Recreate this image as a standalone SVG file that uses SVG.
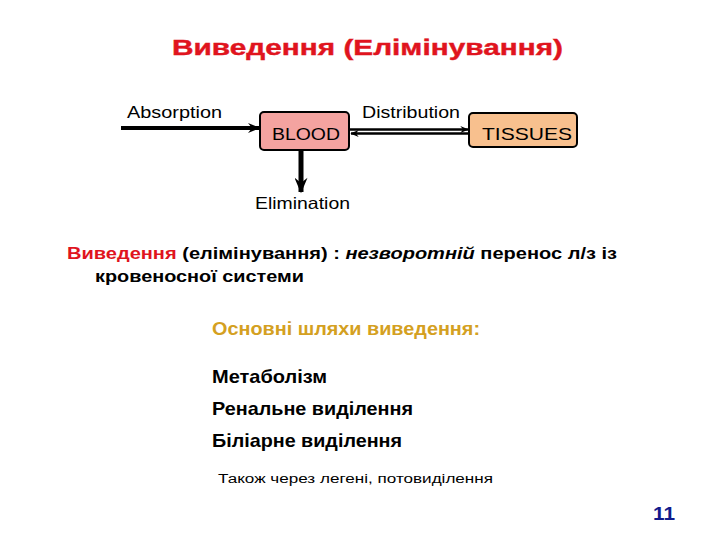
<svg xmlns="http://www.w3.org/2000/svg" width="720" height="540" viewBox="0 0 720 540">
<style>
text{font-family:"Liberation Sans",Arial,sans-serif}
.lbl{font-size:16.5px;fill:#000}
.b{font-weight:bold}
.box{stroke:#000;stroke-width:2}
.ln{stroke:#000;fill:none}
</style>
<defs>
<marker id="ah" viewBox="0 0 12 10" refX="11" refY="5" markerWidth="12" markerHeight="10" markerUnits="userSpaceOnUse" orient="auto">
<path d="M0,0 L12,5 L0,10 L4,5 z" fill="#000"/>
</marker>
<marker id="ahs" viewBox="0 0 12 10" refX="11" refY="5" markerWidth="9" markerHeight="7" markerUnits="userSpaceOnUse" orient="auto">
<path d="M0,0 L12,5 L0,10 L4,5 z" fill="#000"/>
</marker>
<marker id="ahv" viewBox="0 0 12 10" refX="11" refY="5" markerWidth="18" markerHeight="13" markerUnits="userSpaceOnUse" orient="auto">
<path d="M0,0 L12,5 L0,10 L4,5 z" fill="#000"/>
</marker>
</defs>
<rect width="720" height="540" fill="#fff"/>
<text x="172" y="55" class="b" font-size="22" fill="#e0141e" stroke="#e0141e" stroke-width="0.4" textLength="391" lengthAdjust="spacingAndGlyphs">Виведення (Елімінування)</text>
<g id="connectors">
<line class="ln" x1="121" y1="128" x2="259" y2="128" stroke-width="4" marker-end="url(#ah)"/>
<line class="ln" x1="350" y1="129.5" x2="468" y2="129.5" stroke-width="2.5" marker-end="url(#ahs)"/>
<line class="ln" x1="469" y1="133.5" x2="351" y2="133.5" stroke-width="2.5" marker-end="url(#ahs)"/>
<line class="ln" x1="301" y1="150" x2="301" y2="192" stroke-width="5" marker-end="url(#ahv)"/>
</g>
<text x="127" y="118" class="lbl" textLength="95" lengthAdjust="spacingAndGlyphs">Absorption</text>
<text x="362" y="118" class="lbl" textLength="98" lengthAdjust="spacingAndGlyphs">Distribution</text>
<text x="255" y="209" class="lbl" textLength="95" lengthAdjust="spacingAndGlyphs">Elimination</text>
<g id="blood">
<rect class="box" x="260" y="112" width="89" height="38" rx="4" fill="#f4a3a0"/>
<text x="272" y="139.5" class="lbl" font-size="17.5" textLength="68" lengthAdjust="spacingAndGlyphs">BLOOD</text>
</g>
<g id="tissues">
<rect class="box" x="469" y="113" width="108" height="34" rx="4" fill="#f8c08e"/>
<text x="482" y="140" class="lbl" font-size="17.5" textLength="90" lengthAdjust="spacingAndGlyphs">TISSUES</text>
</g>
<text x="67" y="259" class="b" font-size="17" textLength="550" lengthAdjust="spacingAndGlyphs"><tspan fill="#e0141e">Виведення</tspan> (елімінування) : <tspan font-style="italic">незворотній</tspan> перенос л/з із</text>
<text x="95" y="282" class="b" font-size="17" textLength="209" lengthAdjust="spacingAndGlyphs">кровеносної системи</text>
<text x="212" y="335" class="b" font-size="19" fill="#d4a021" textLength="268" lengthAdjust="spacingAndGlyphs">Основні шляхи виведення:</text>
<text x="212" y="383" class="b" font-size="19" textLength="115" lengthAdjust="spacingAndGlyphs">Метаболізм</text>
<text x="212" y="415" class="b" font-size="19" textLength="201" lengthAdjust="spacingAndGlyphs">Ренальне виділення</text>
<text x="212" y="447" class="b" font-size="19" textLength="190" lengthAdjust="spacingAndGlyphs">Біліарне виділення</text>
<text x="218" y="483" font-size="12.5" textLength="275" lengthAdjust="spacingAndGlyphs">Також через легені, потовиділення</text>
<text x="653" y="520" class="b" font-size="19" fill="#101a8c" textLength="22" lengthAdjust="spacingAndGlyphs">11</text>
</svg>
